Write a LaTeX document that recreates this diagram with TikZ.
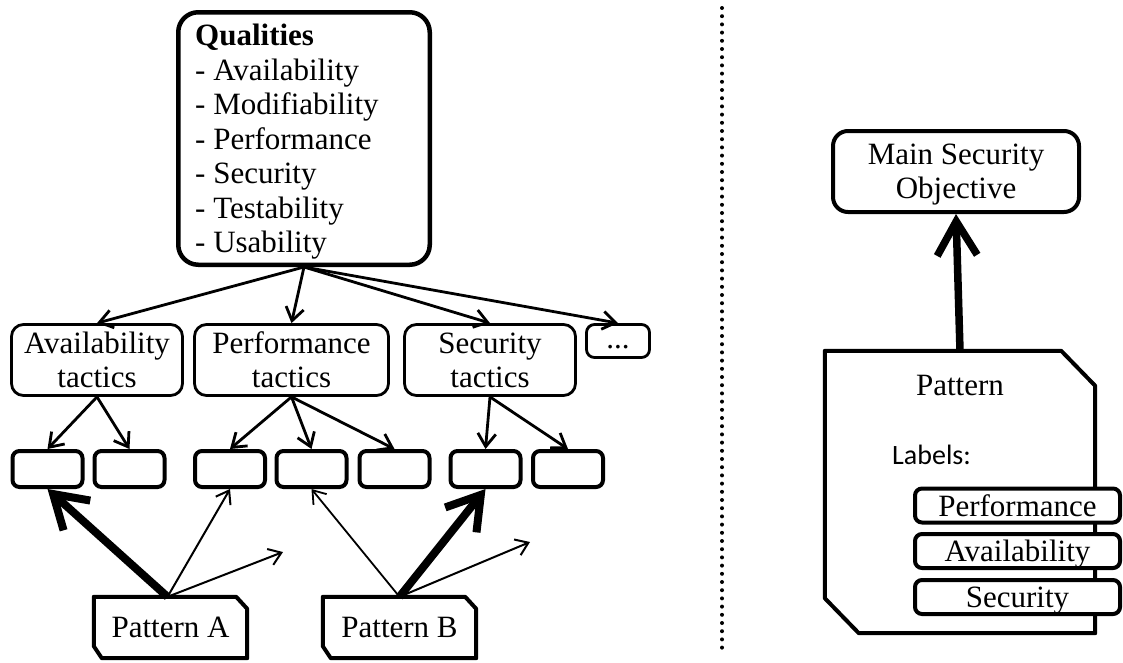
\documentclass[tikz,border=0pt]{standalone}
\usepackage{fontspec}
\setmainfont{Liberation Serif}
\newfontfamily\labfont{Carlito}
\usetikzlibrary{arrows.meta}
\begin{document}
\begin{tikzpicture}[x=1pt,y=-1pt,
  txt/.style={font=\fontsize{31}{34}\selectfont},
  qbox/.style={draw, line width=4.5pt, rounded corners=20pt, inner sep=0pt},
  tbox/.style={draw, line width=2.8pt, rounded corners=12pt, align=center, inner sep=0pt, txt},
  sbox/.style={draw, line width=4pt, rounded corners=7pt, minimum width=70pt, minimum height=36pt, inner sep=0pt},
  lbox/.style={draw, fill=white, line width=4pt, rounded corners=7pt, minimum width=205pt, minimum height=34pt, inner sep=0pt, txt, text height=21pt, text depth=0pt},
  thinarr/.style={-{Straight Barb[length=13pt,width=18pt]}, line width=2.8pt},
  patarr/.style={-{Straight Barb[length=12pt,width=17pt]}, line width=2pt},
  thickarr/.style={-{Straight Barb[length=32pt,width=40pt]}, line width=8pt},
  patshape/.style={draw, line width=4pt, line join=round},
]
\useasboundingbox (0,0) rectangle (1123,662);
\fill[white] (0,0) rectangle (1123,662);

% Qualities
\node[qbox, minimum width=251.5pt, minimum height=252.5pt] (Q) at (304,138.5) {};
\node[anchor=north west, inner sep=0pt, align=left, font=\fontsize{31}{34.5}\selectfont] (Qt) at (195,24)
  {\textbf{Qualities}\\- Availability\\- Modifiability\\- Performance\\- Security\\- Testability\\- Usability};

% tactics
\node[tbox, minimum width=171pt, minimum height=71pt] (At) at (97,360) {Availability\\tactics};
\node[tbox, minimum width=194pt, minimum height=71pt] (Pt) at (291.5,360) {Performance\\tactics};
\node[tbox, minimum width=171pt, minimum height=71pt] (St) at (490,360) {Security\\tactics};
\node[tbox, rounded corners=8pt, minimum width=63pt, minimum height=33pt, text height=20pt, text depth=6pt] (Dt) at (618,341) {...};

\draw[thinarr] (Q.south) -- (At.north);
\draw[thinarr] (Q.south) -- (Pt.north);
\draw[thinarr] (Q.south) -- (St.north);
\draw[thinarr] (Q.south) -- (Dt.north);

% small boxes
\node[sbox] (s1) at (47.5,469) {};
\node[sbox] (s2) at (129.5,469) {};
\node[sbox] (s3) at (230,469) {};
\node[sbox] (s4) at (311.5,469) {};
\node[sbox] (s5) at (394.5,469) {};
\node[sbox] (s6) at (485.5,469) {};
\node[sbox] (s7) at (568,469) {};

\draw[thinarr] (At.south) -- (s1.north);
\draw[thinarr] (At.south) -- (s2.north);
\draw[thinarr] (Pt.south) -- (s3.north);
\draw[thinarr] (Pt.south) -- (s4.north);
\draw[thinarr] (Pt.south) -- (s5.north);
\draw[thinarr] (St.south) -- (s6.north);
\draw[thinarr] (St.south) -- (s7.north);

% patterns
\node[txt, inner sep=0pt, minimum width=153pt, minimum height=61pt] (PA) at (170.5,627.5) {Pattern A};
\draw[patshape] (PA.north west) -- ([xshift=-11pt]PA.north east) -- ([yshift=-12pt]PA.north east)
  -- (PA.south east) -- ([xshift=8pt]PA.south west) -- ([yshift=12pt]PA.south west) -- cycle;
\node[txt, inner sep=0pt, minimum width=153pt, minimum height=61pt] (PB) at (399.5,627.5) {Pattern B};
\draw[patshape] (PB.north west) -- ([xshift=-11pt]PB.north east) -- ([yshift=-12pt]PB.north east)
  -- (PB.south east) -- ([xshift=8pt]PB.south west) -- ([yshift=12pt]PB.south west) -- cycle;

\coordinate (fa) at (283,552);
\coordinate (fb) at (530,542);
\draw[thickarr] ([xshift=-3pt]PA.north) -- (s1.south);
\draw[patarr] ([xshift=-3pt]PA.north) -- (s3.south);
\draw[patarr] ([xshift=-3pt]PA.north) -- (fa);
\draw[patarr, line width=1.8pt] (PB.north) -- (s4.south);
\draw[thickarr] (PB.north) -- (s6.south);
\draw[patarr] (PB.north) -- (fb);

% separator
\coordinate (d1) at (722,8);
\coordinate (d2) at (722,655);
\draw[line width=4pt, line cap=round, dash pattern=on 0pt off 8.2pt] (d1) -- (d2);

% right side
\node[tbox, line width=4pt, rounded corners=15pt, minimum width=246pt, minimum height=81pt] (M) at (956,171.5)
  {Main Security\\\smash{Objective}};

\node[inner sep=0pt, minimum width=270pt, minimum height=282pt] (BP) at (960,492) {};
\draw[patshape] (BP.north west) -- ([xshift=-34pt]BP.north east) -- ([yshift=-35pt]BP.north east)
  -- (BP.south east) -- ([xshift=34pt]BP.south west) -- ([yshift=35pt]BP.south west) -- cycle;
\node[txt, anchor=base, inner sep=0pt] (BPt) at (960,395) {Pattern};
\node[font=\labfont\fontsize{28}{32}\selectfont, anchor=base west, inner sep=0pt] (lab) at (892,464) {Labels:};

\node[lbox] (l1) at (1017.5,505.5) {Performance};
\node[lbox] (l2) at (1017.5,551) {Availability};
\node[lbox] (l3) at (1017.5,597) {Security};

\draw[-{Straight Barb[length=34pt,width=40pt]}, line width=7.5pt] (BP.north) -- (M.south);
\end{tikzpicture}
\end{document}
